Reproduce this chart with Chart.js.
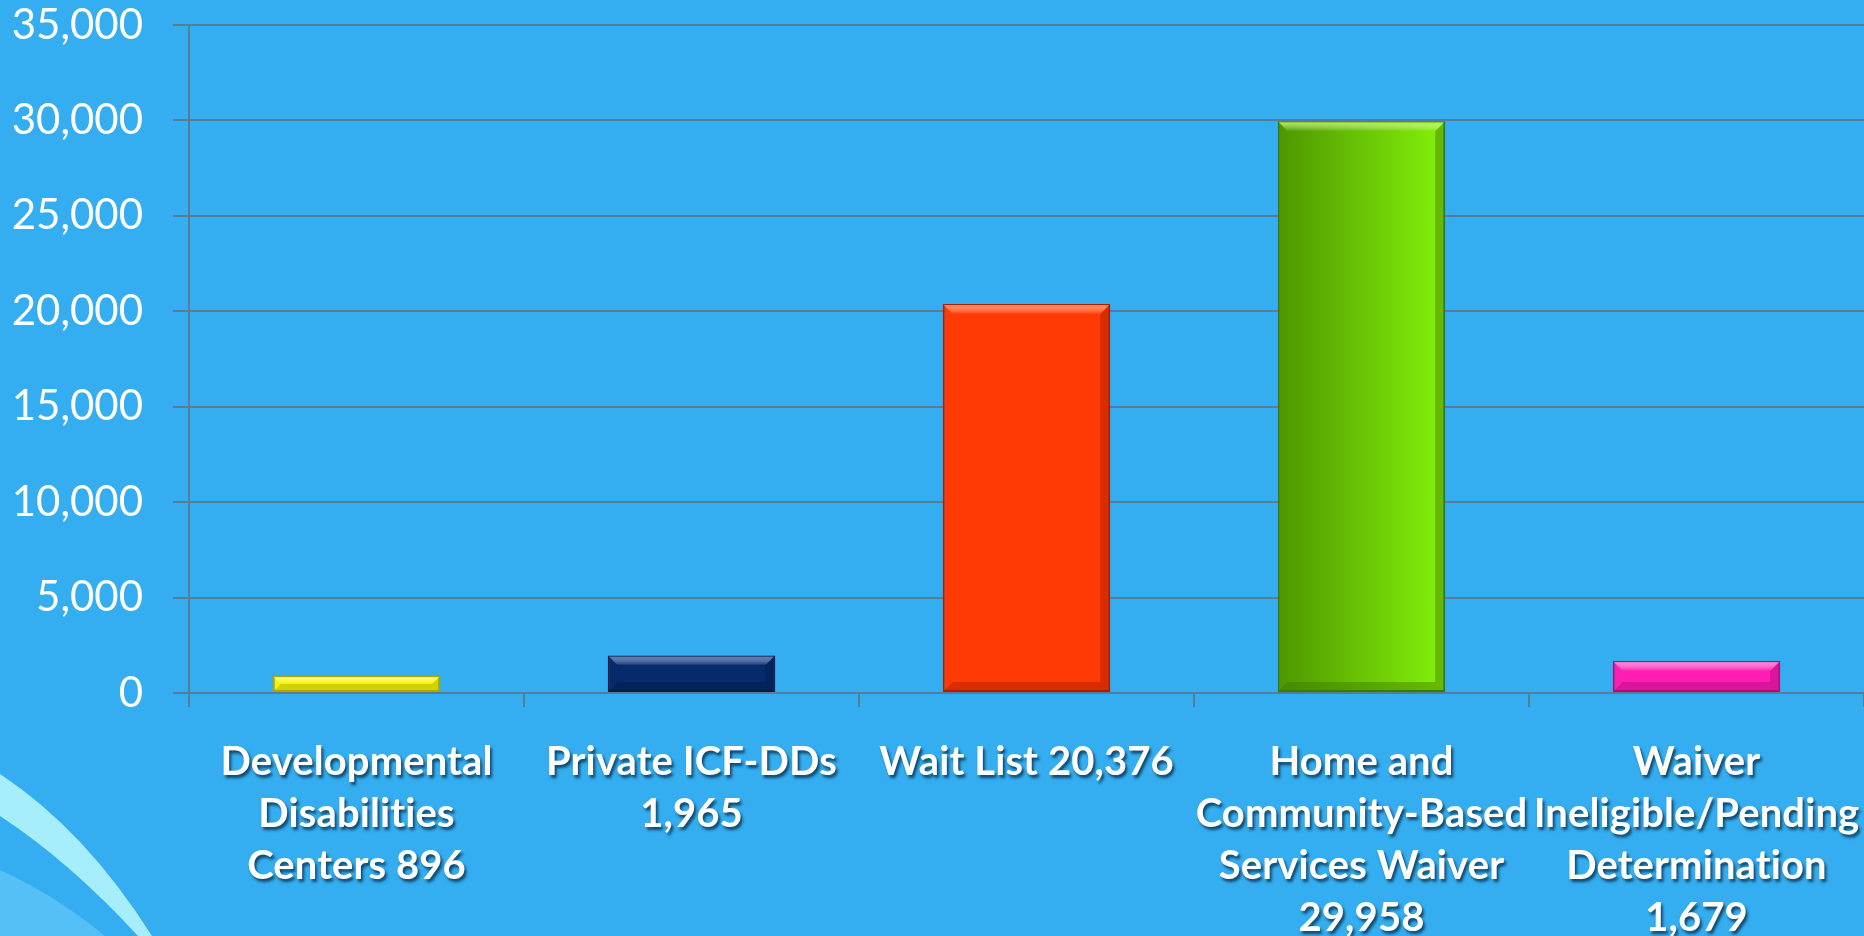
<!DOCTYPE html>
<html>
<head>
<meta charset="utf-8">
<script src="https://cdn.jsdelivr.net/npm/chart.js@4.4.1/dist/chart.umd.min.js"></script>
<style>
    html, body { margin: 0; padding: 0; background: #34aef0; overflow: hidden; }
    #wrap { width: 1864px; height: 936px; position: relative; }
</style>
</head>
<body>
<div id="wrap"><canvas id="programChart"></canvas></div>
<script>
// data
const categories = [
    ['Developmental', 'Disabilities', 'Centers 896'],
    ['Private ICF-DDs', '1,965'],
    ['Wait List 20,376'],
    ['Home and', 'Community-Based', 'Services Waiver', '29,958'],
    ['Waiver', 'Ineligible/Pending', 'Determination', '1,679']
];
const enrolled = [896, 1965, 20376, 29958, 1679];
const yTicks = [0, 5000, 10000, 15000, 20000, 25000, 30000, 35000];

const barColors = ['#f4f400', '#062b6c', '#ff3a04', '#6cc800', '#ff1eb4'];
const bevelLight = ['#ffff66', '#4a6cb0', '#ff7b45', '#a4f545', '#ff78d6'];
const bevelDark = ['#a8a800', '#021a46', '#a82000', '#3f7a00', '#b00a7c'];
const lineGray = '#567d98';

document.addEventListener('DOMContentLoaded', function () {
    const ctx = document.getElementById('programChart');

    // paints the slide background and the swoosh in the lower left corner
    const backdrop = {
        id: 'backdrop',
        beforeDraw(chart) {
            const c = chart.ctx;
            const h = chart.height;
            c.save();
            c.fillStyle = '#34aef0';
            c.fillRect(0, 0, chart.width, h);

            c.fillStyle = '#55c0f8';
            c.beginPath();
            c.moveTo(0, 870);
            c.quadraticCurveTo(55, 895, 105, h);
            c.lineTo(0, h);
            c.closePath();
            c.fill();

            c.fillStyle = '#a6eefc';
            c.beginPath();
            c.moveTo(0, 774);
            c.quadraticCurveTo(85, 830, 152, h);
            c.lineTo(138, h);
            c.quadraticCurveTo(70, 862, 0, 816);
            c.closePath();
            c.fill();
            c.restore();
        }
    };

    // bevel edges on the bars plus the shadow under the category labels
    const bevel = {
        id: 'bevel',
        afterDatasetsDraw(chart) {
            const c = chart.ctx;
            const meta = chart.getDatasetMeta(0);
            c.save();
            meta.data.forEach((bar, i) => {
                const p = bar.getProps(['x', 'y', 'base', 'width'], true);
                const l = p.x - p.width / 2, r = p.x + p.width / 2;
                const t = p.y, b = p.base;
                const d = Math.min(10, (b - t) / 2);
                const g = c.createLinearGradient(0, t, 0, t + d);
                g.addColorStop(0, bevelLight[i]);
                g.addColorStop(1, 'rgba(255,255,255,0)');
                c.fillStyle = g;
                c.beginPath();
                c.moveTo(l + 1, t + 1); c.lineTo(r - 1, t + 1);
                c.lineTo(r - d, t + d); c.lineTo(l + d, t + d);
                c.closePath(); c.fill();
                c.globalAlpha = 0.45;
                c.fillStyle = bevelDark[i];
                c.beginPath();
                c.moveTo(r - 1, t + 1); c.lineTo(r - 1, b - 1);
                c.lineTo(r - d, b - d); c.lineTo(r - d, t + d);
                c.closePath(); c.fill();
                c.beginPath();
                c.moveTo(l + 1, b - 1); c.lineTo(r - 1, b - 1);
                c.lineTo(r - d, b - d); c.lineTo(l + d, b - d);
                c.closePath(); c.fill();
                c.globalAlpha = 1;
            });
            c.restore();
            // the x labels are drawn after this hook (ticks.z = 1)
            c.shadowColor = 'rgba(0, 25, 50, 0.7)';
            c.shadowOffsetX = 2;
            c.shadowOffsetY = 3;
            c.shadowBlur = 3;
            c.letterSpacing = '0.1px';
        },
        afterDraw(chart) {
            const c = chart.ctx;
            c.shadowColor = 'transparent';
            c.shadowOffsetX = 0;
            c.shadowOffsetY = 0;
            c.shadowBlur = 0;
            c.letterSpacing = '0px';
        }
    };

    const fillFor = (context) => {
        const i = context.dataIndex;
        if (i !== 3) return barColors[i];
        const chart = context.chart;
        if (!chart.chartArea) return barColors[i];
        const xs = chart.scales.x;
        const cx = xs.getPixelForValue(i);
        const half = xs.width / categories.length / 4;
        const g = chart.ctx.createLinearGradient(cx - half, 0, cx + half, 0);
        g.addColorStop(0, '#4e9600');
        g.addColorStop(1, '#84f20a');
        return g;
    };

    new Chart(ctx, {
        type: 'bar',
        data: {
            labels: categories,
            datasets: [{
                data: enrolled,
                backgroundColor: fillFor,
                borderColor: bevelDark,
                borderWidth: 2,
                borderSkipped: false,
                categoryPercentage: 1,
                barPercentage: 0.5
            }]
        },
        options: {
            responsive: true,
            maintainAspectRatio: false,
            animation: false,
            layout: { padding: { top: 25, right: 0, bottom: 0, left: 0 } },
            plugins: {
                legend: { display: false },
                tooltip: { enabled: false }
            },
            scales: {
                x: {
                    afterFit(scale) {
                        scale.height = 243;
                        scale.paddingLeft = 0;
                        scale.paddingRight = 0;
                    },
                    grid: {
                        display: true,
                        drawOnChartArea: false,
                        tickLength: 14,
                        color: lineGray,
                        lineWidth: 2
                    },
                    border: { display: true, color: lineGray, width: 2 },
                    ticks: {
                        autoSkip: false,
                        maxRotation: 0,
                        minRotation: 0,
                        padding: 29,
                        z: 1,
                        color: '#ffffff',
                        font: { family: 'Lato', weight: 'bold', size: 40, lineHeight: 1.3 }
                    }
                },
                y: {
                    min: 0,
                    max: 35000,
                    afterFit(scale) {
                        scale.width = 189;
                        scale.paddingTop = 0;
                        scale.paddingBottom = 0;
                    },
                    afterBuildTicks(scale) {
                        scale.ticks = yTicks.map(v => ({ value: v }));
                    },
                    grid: {
                        color: lineGray,
                        lineWidth: 2,
                        tickLength: 16
                    },
                    border: { display: true, color: lineGray, width: 2 },
                    ticks: {
                        padding: 30,
                        color: '#ffffff',
                        font: { family: 'Lato', size: 42 },
                        callback: (v) => v.toLocaleString('en-US')
                    }
                }
            }
        },
        plugins: [backdrop, bevel]
    });
});
</script>
</body>
</html>
